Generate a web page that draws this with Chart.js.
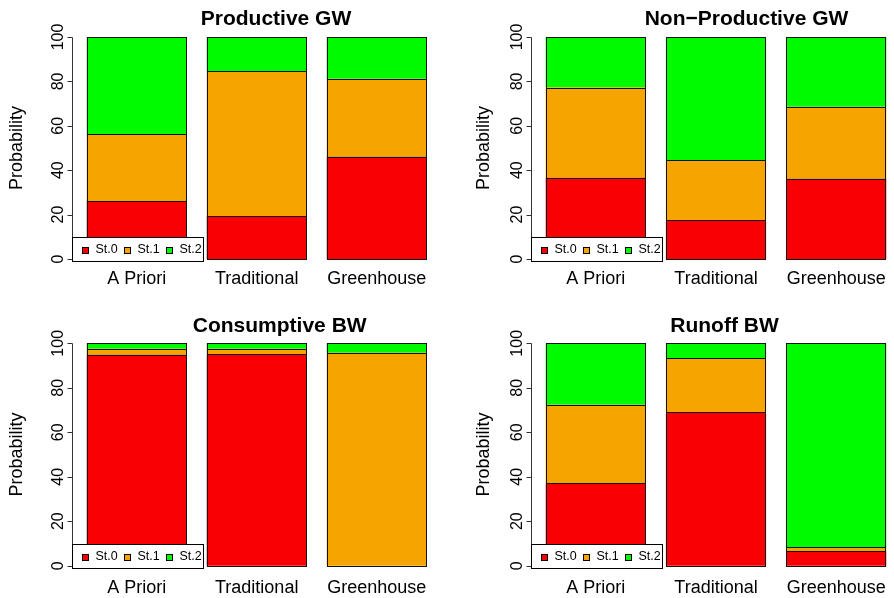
<!DOCTYPE html>
<html>
<head>
<meta charset="utf-8">
<script src="https://cdn.jsdelivr.net/npm/chart.js@4.4.1/dist/chart.umd.min.js"></script>
<style>
    html, body { margin: 0; padding: 0; background: #fff; }
    #wrap { position: relative; width: 894px; height: 598px; overflow: hidden; }
    #wrap canvas { position: absolute; }
</style>
</head>
<body>
<div id="wrap">
    <canvas id="c1" width="460" height="299" style="left:0;top:0"></canvas>
    <canvas id="c2" width="460" height="299" style="left:447px;top:0"></canvas>
    <canvas id="c3" width="460" height="299" style="left:0;top:299px"></canvas>
    <canvas id="c4" width="460" height="299" style="left:447px;top:299px"></canvas>
</div>
<script>
// Veriler (resimden okunan olasiliklar, %)
const categories = ['A Priori', 'Traditional', 'Greenhouse'];
const states = ['St.0', 'St.1', 'St.2'];
const yTicks = [0, 20, 40, 60, 80, 100];

const productiveSt0 = [26.0, 19.4, 46.1];
const productiveSt1 = [30.3, 65.1, 35.1];
const productiveSt2 = [43.7, 15.5, 18.8];

const nonProductiveSt0 = [36.6, 17.6, 36.2];
const nonProductiveSt1 = [40.6, 27.0, 32.4];
const nonProductiveSt2 = [22.8, 55.4, 31.4];

const consumptiveSt0 = [94.8, 95.0, 0];
const consumptiveSt1 = [2.7, 2.5, 95.8];
const consumptiveSt2 = [2.5, 2.5, 4.2];

const runoffSt0 = [37.0, 69.0, 6.4];
const runoffSt1 = [35.4, 24.3, 1.8];
const runoffSt2 = [27.6, 6.7, 91.8];

const stateColors = ['#f90005', '#f5a400', '#00fb00'];
const FONT = '"Liberation Sans", Arial, Helvetica, sans-serif';
const BAR_PCT = 1 / 1.2;   // R barplot space = 0.2

Chart.defaults.font.family = FONT;

// R tarzi eksen, etiket, baslik ve lejant
const rStylePlugin = {
    id: 'rStyle',
    afterDatasetsDraw(chart) {
        // cubuk kenarlari: tek piksel, net siyah cizgi
        const ctx = chart.ctx;
        ctx.save();
        ctx.strokeStyle = '#111';
        ctx.lineWidth = 1;
        chart.data.datasets.forEach((ds, di) => {
            chart.getDatasetMeta(di).data.forEach(el => {
                const { x, y, base, width } = el.getProps(['x', 'y', 'base', 'width'], true);
                const l = Math.round(x - width / 2) + 0.5;
                const r = Math.round(x + width / 2) - 0.5;
                const t = Math.round(Math.min(y, base)) + 0.5;
                const b = Math.round(Math.max(y, base)) + 0.5;
                ctx.strokeRect(l, t, r - l, b - t);
            });
        });
        ctx.restore();
    },
    afterDraw(chart) {
        const p = chart.options.plugins.rStyle;
        const ctx = chart.ctx;
        const xs = chart.scales.x;
        const ys = chart.scales.y;
        const barW = (xs.right - xs.left) / categories.length * BAR_PCT;
        const axisX = Math.round(xs.left - 0.036 * barW) - 0.5;
        const y0 = ys.getPixelForValue(0);
        const y100 = ys.getPixelForValue(100);

        ctx.save();
        ctx.strokeStyle = '#333';
        ctx.lineWidth = 1;

        // y ekseni
        ctx.beginPath();
        ctx.moveTo(axisX, Math.round(y0) + 0.5);
        ctx.lineTo(axisX, Math.round(y100) + 0.5);
        yTicks.forEach(t => {
            const ty = Math.round(ys.getPixelForValue(t)) + 0.5;
            ctx.moveTo(axisX, ty);
            ctx.lineTo(axisX - 5, ty);
        });
        ctx.stroke();

        // y tick yazilari (dikey)
        ctx.fillStyle = '#000';
        ctx.font = '16px ' + FONT;
        ctx.textAlign = 'center';
        ctx.textBaseline = 'alphabetic';
        yTicks.forEach(t => {
            ctx.save();
            ctx.translate(axisX - 9.5, ys.getPixelForValue(t));
            ctx.rotate(-Math.PI / 2);
            ctx.fillText(String(t), 0, 0);
            ctx.restore();
        });

        // y ekseni basligi
        ctx.font = '18px ' + FONT;
        ctx.save();
        ctx.translate(p.ylabX, (y0 + y100) / 2);
        ctx.rotate(-Math.PI / 2);
        ctx.fillText('Probability', 0, 0);
        ctx.restore();

        // kategori isimleri
        categories.forEach((c, i) => {
            ctx.fillText(c, xs.getPixelForValue(i), p.xLabelY);
        });

        // baslik
        ctx.font = 'bold 21px ' + FONT;
        ctx.fillText(p.title, p.titleX, p.titleY);

        // lejant (sol alt)
        const boxL = axisX;
        const boxB = Math.round(y0) + 2.5;
        const boxW = 131, boxH = 24;
        ctx.fillStyle = '#fff';
        ctx.fillRect(boxL, boxB - boxH, boxW, boxH);
        ctx.strokeStyle = '#000';
        ctx.strokeRect(boxL, boxB - boxH, boxW, boxH);
        const midY = boxB - boxH / 2;
        ctx.font = '12.5px ' + FONT;
        ctx.textAlign = 'left';
        ctx.textBaseline = 'middle';
        states.forEach((s, i) => {
            const sx = Math.round(boxL + 9) + 0.5 + i * 42;
            ctx.fillStyle = chart.data.datasets[i].backgroundColor;
            ctx.fillRect(sx, Math.round(midY - 3) + 0.5, 6, 6);
            ctx.strokeRect(sx, Math.round(midY - 3) + 0.5, 6, 6);
            ctx.fillStyle = '#000';
            ctx.fillText(s, sx + 13, midY + 0.5);
        });
        ctx.restore();
    }
};

const panels = [
    { id: 'c1', title: 'Productive GW', series: [productiveSt0, productiveSt1, productiveSt2],
      pad: { left: 76.7, right: 23.3, top: 28.1, bottom: 31.1 },
      titleX: 276, titleY: 25, ylabX: 21.5, xLabelY: 284 },
    { id: 'c2', title: 'Non\u2212Productive GW', series: [nonProductiveSt0, nonProductiveSt1, nonProductiveSt2],
      pad: { left: 88.7, right: 10.7, top: 28.1, bottom: 31.1 },
      titleX: 299.5, titleY: 25, ylabX: 41.5, xLabelY: 284 },
    { id: 'c3', title: 'Consumptive BW', series: [consumptiveSt0, consumptiveSt1, consumptiveSt2],
      pad: { left: 76.7, right: 23.3, top: 35.4, bottom: 23.4 },
      titleX: 279.7, titleY: 33.3, ylabX: 21.5, xLabelY: 294 },
    { id: 'c4', title: 'Runoff BW', series: [runoffSt0, runoffSt1, runoffSt2],
      pad: { left: 88.7, right: 10.7, top: 35.4, bottom: 23.4 },
      titleX: 277.5, titleY: 33.3, ylabX: 41.5, xLabelY: 294 }
];

panels.forEach(panel => {
    const ctx = document.getElementById(panel.id).getContext('2d');
    new Chart(ctx, {
        type: 'bar',
        data: {
            labels: categories,
            datasets: panel.series.map((vals, i) => ({
                label: states[i],
                data: vals,
                backgroundColor: stateColors[i],
                borderWidth: 0,
                barPercentage: BAR_PCT,
                categoryPercentage: 1
            }))
        },
        options: {
            responsive: false,
            animation: false,
            devicePixelRatio: 1,
            layout: { padding: panel.pad },
            plugins: {
                legend: { display: false },
                tooltip: { enabled: false },
                rStyle: panel
            },
            scales: {
                x: { display: false, stacked: true, offset: true },
                y: { display: false, stacked: true, min: -4, max: 104 }
            }
        },
        plugins: [rStylePlugin]
    });
});
</script>
</body>
</html>
